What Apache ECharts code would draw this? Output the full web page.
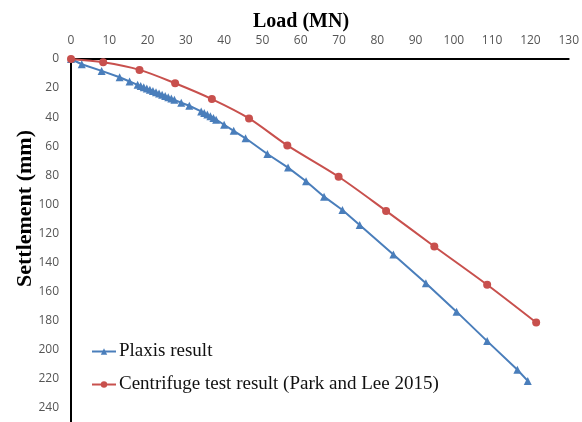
<!DOCTYPE html>
<html>
<head>
    <script src="https://cdn.jsdelivr.net/npm/echarts@6/dist/echarts.min.js"></script>
</head>
<body style="margin: 0; background: #fff">
<div id="container" style="height: 422px; width: 582px;"></div>
<script>

// load (MN) vs settlement (mm)
var plaxisLoad = [0, 2.8, 8.0, 12.7, 15.3, 17.4, 18.2, 19.0, 19.8, 20.6, 21.4, 22.2, 23.0, 23.8, 24.6, 25.4, 26.2, 27.0,
    28.8, 30.9, 34.0, 34.8, 35.6, 36.4, 37.2, 37.9, 40.0, 42.5, 45.6, 51.3, 56.7, 61.4, 66.1, 70.9, 75.4, 84.2, 92.7,
    100.7, 108.7, 116.6, 119.3];
var plaxisSettle = [0, 3.6, 8.2, 12.6, 15.5, 17.8, 18.6, 19.5, 20.3, 21.1, 22.0, 22.9, 23.8, 24.6, 25.5, 26.4, 27.2, 28.1,
    30.1, 32.2, 36.1, 37.2, 38.3, 39.4, 40.6, 41.8, 45.3, 49.5, 54.6, 65.4, 74.8, 84.2, 94.8, 104.0, 114.3, 134.6, 154.5,
    174.0, 194.3, 214.0, 221.7];

var centLoad = [0, 8.4, 17.9, 27.2, 36.8, 46.5, 56.5, 69.9, 82.3, 94.9, 108.7, 121.5];
var centSettle = [0, 2.3, 7.5, 16.7, 27.6, 40.9, 59.5, 81.1, 104.6, 129.1, 155.5, 181.5];

var seriesNames = ['Plaxis result', 'Centrifuge test result (Park and Lee 2015)'];

function pairs(xs, ys) {
    var res = [];
    for (var i = 0; i < xs.length; i++) {
        res.push([xs[i], ys[i]]);
    }
    return res;
}

var myChart = echarts.init(document.getElementById('container'));

var option = {
    animation: false,
    grid: { left: 71, top: 59, right: 11, bottom: -2 },
    legend: {
        orient: 'vertical',
        left: 86,
        top: 332,
        itemWidth: 24,
        itemHeight: 8,
        itemGap: 4,
        textStyle: { fontFamily: 'Liberation Serif', fontSize: 19, color: '#111', padding: [0, 0, 0, -2] },
        data: seriesNames
    },
    graphic: [
        {
            type: 'text', x: 253, y: 6,
            style: { text: 'Load (MN)', font: 'bold 20px "Liberation Serif"', fill: '#000' }
        },
        {
            type: 'text', x: 8, y: 287, rotation: Math.PI / 2,
            style: { text: 'Settlement (mm)', font: 'bold 22px "Liberation Serif"', fill: '#000' }
        }
    ],
    xAxis: {
        type: 'value',
        position: 'top',
        min: 0,
        max: 130,
        interval: 10,
        splitLine: { show: false },
        axisTick: { show: false },
        axisLine: { lineStyle: { color: '#000', width: 2 } },
        axisLabel: { color: '#555', fontSize: 12, fontFamily: 'Open Sans', margin: 9 }
    },
    yAxis: {
        type: 'value',
        inverse: true,
        min: 0,
        max: 250,
        interval: 20,
        splitLine: { show: false },
        axisTick: { show: false },
        axisLine: { lineStyle: { color: '#000', width: 2 } },
        axisLabel: { color: '#555', fontSize: 12, fontFamily: 'Open Sans', margin: 12, showMaxLabel: false }
    },
    series: [
        {
            name: seriesNames[0],
            type: 'line',
            data: pairs(plaxisLoad, plaxisSettle),
            symbol: 'triangle',
            symbolSize: 8,
            color: '#4a7ebb',
            lineStyle: { width: 2 },
            itemStyle: { color: '#4a7ebb' }
        },
        {
            name: seriesNames[1],
            type: 'line',
            data: pairs(centLoad, centSettle),
            symbol: 'circle',
            symbolSize: 8,
            smooth: 0.3,
            color: '#c8504d',
            lineStyle: { width: 2 },
            itemStyle: { color: '#c8504d' }
        }
    ]
};

myChart.setOption(option);

</script>
</body>
</html>
